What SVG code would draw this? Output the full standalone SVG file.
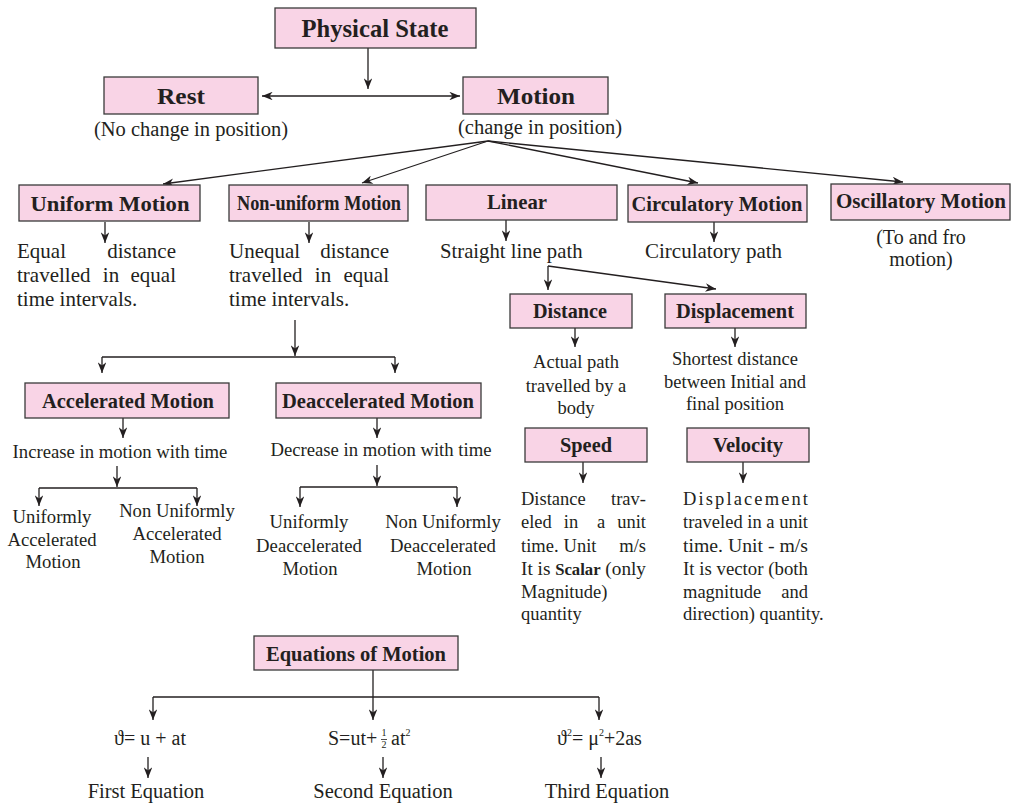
<svg xmlns="http://www.w3.org/2000/svg" width="1014" height="806" viewBox="0 0 1014 806">
<defs>
<style>
.box{fill:#f9d4e6;stroke:#3a3a3a;stroke-width:1.3}
.lbl{font-family:"Liberation Serif","Times New Roman",serif;font-weight:bold;fill:#231f20;text-anchor:middle}
.t{font-family:"Liberation Serif","Times New Roman",serif;fill:#231f20}
.c{text-anchor:middle}
.e{text-anchor:end}
.ln{fill:none;stroke:#231f20;stroke-width:1.3}
.ar{fill:none;stroke:#231f20;stroke-width:1.3;marker-end:url(#ah)}
</style>
<marker id="ah" viewBox="0 0 10 8" refX="10" refY="4" markerWidth="11" markerHeight="8.5" markerUnits="userSpaceOnUse" orient="auto-start-reverse">
<path d="M0,0 L10,4 L0,8 L3,4z" fill="#231f20"/>
</marker>
</defs>
<rect width="1014" height="806" fill="#ffffff"/>

<g id="connectors">
<path class="ar" d="M368,48 V89"/>
<path class="ln" d="M262,96 H460" marker-start="url(#ah)" marker-end="url(#ah)"/>
<path class="ar" d="M488,141 L163,184"/>
<path class="ar" d="M488,141 L362,183"/>
<path class="ar" d="M488,141 L698,183"/>
<path class="ar" d="M488,141 L903,182"/>
<path class="ar" d="M105,222 V243"/>
<path class="ar" d="M309,222 V243"/>
<path class="ar" d="M506,220 V241"/>
<path class="ar" d="M714,222 V242"/>
<path class="ar" d="M548,266 V290"/>
<path class="ar" d="M548,266 L716,289"/>
<path class="ar" d="M575,328 V347"/>
<path class="ar" d="M735,328 V347"/>
<path class="ar" d="M583,462 V483"/>
<path class="ar" d="M743,462 V483"/>
<path class="ar" d="M295,320 V356"/>
<path class="ln" d="M102,357 H395"/>
<path class="ar" d="M102,357 V373"/>
<path class="ar" d="M395,357 V373"/>
<path class="ar" d="M123,418 V438"/>
<path class="ar" d="M377,418 V438"/>
<path class="ar" d="M117,466 V487"/>
<path class="ln" d="M39,488 H197"/>
<path class="ar" d="M39,488 V506"/>
<path class="ar" d="M197,488 V506"/>
<path class="ar" d="M377,465 V486"/>
<path class="ln" d="M300,487 H457"/>
<path class="ar" d="M300,487 V507"/>
<path class="ar" d="M457,487 V507"/>
<path class="ar" d="M373,670 V720"/>
<path class="ln" d="M153,697 H599"/>
<path class="ar" d="M153,697 V720"/>
<path class="ar" d="M599,697 V720"/>
<path class="ar" d="M148,757 V778"/>
<path class="ar" d="M383,757 V778"/>
<path class="ar" d="M601,757 V778"/>
</g>

<g id="physical-state"><rect class="box" x="275" y="8" width="201" height="40"/><text class="lbl" x="375" y="37" font-size="25" textLength="147" lengthAdjust="spacingAndGlyphs">Physical State</text></g>
<g id="rest"><rect class="box" x="104" y="77" width="154" height="37"/><text class="lbl" x="181" y="104" font-size="24" textLength="48" lengthAdjust="spacingAndGlyphs">Rest</text>
<text class="t c" x="191" y="136" font-size="20.5">(No change in position)</text></g>
<g id="motion"><rect class="box" x="463" y="77" width="145" height="37"/><text class="lbl" x="536" y="104" font-size="24" textLength="78" lengthAdjust="spacingAndGlyphs">Motion</text>
<text class="t c" x="540" y="134" font-size="20.5">(change in position)</text></g>

<g id="uniform-motion"><rect class="box" x="19" y="185" width="181" height="36"/><text class="lbl" x="110" y="211" font-size="21" textLength="159" lengthAdjust="spacingAndGlyphs">Uniform Motion</text>
<g class="t" font-size="21"><text x="17" y="258">Equal</text><text class="e" x="176" y="258">distance</text>
<text x="17" y="282">travelled</text><text class="c" x="111" y="282">in</text><text class="e" x="176" y="282">equal</text>
<text x="17" y="306">time intervals.</text></g></g>

<g id="non-uniform-motion"><rect class="box" x="229" y="185" width="179" height="36"/><text class="lbl" x="319" y="210" font-size="20" textLength="164" lengthAdjust="spacingAndGlyphs">Non-uniform Motion</text>
<g class="t" font-size="21"><text x="229" y="258">Unequal</text><text class="e" x="389" y="258">distance</text>
<text x="229" y="282">travelled</text><text class="c" x="323" y="282">in</text><text class="e" x="389" y="282">equal</text>
<text x="229" y="306">time intervals.</text></g></g>

<g id="linear"><rect class="box" x="426" y="185" width="191" height="35"/><text class="lbl" x="517" y="209" font-size="21" textLength="60" lengthAdjust="spacingAndGlyphs">Linear</text>
<text class="t" x="440" y="258" font-size="20.7">Straight line path</text></g>

<g id="circulatory-motion"><rect class="box" x="628" y="185" width="179" height="37"/><text class="lbl" x="717" y="211" font-size="21" textLength="171" lengthAdjust="spacingAndGlyphs">Circulatory Motion</text>
<text class="t" x="645" y="258" font-size="21">Circulatory path</text></g>

<g id="oscillatory-motion"><rect class="box" x="831" y="184" width="179" height="36"/><text class="lbl" x="921" y="208" font-size="21" textLength="170" lengthAdjust="spacingAndGlyphs">Oscillatory Motion</text>
<text class="t c" x="921" y="244" font-size="20">(To and fro</text><text class="t c" x="921" y="266" font-size="20">motion)</text></g>

<g id="distance"><rect class="box" x="510" y="294" width="122" height="34"/><text class="lbl" x="570" y="318" font-size="21" textLength="74" lengthAdjust="spacingAndGlyphs">Distance</text>
<g class="t c" font-size="18.5"><text x="576" y="368">Actual path</text><text x="576" y="392">travelled by a</text><text x="576" y="414">body</text></g></g>

<g id="displacement"><rect class="box" x="665" y="294" width="141" height="34"/><text class="lbl" x="735" y="318" font-size="21" textLength="118" lengthAdjust="spacingAndGlyphs">Displacement</text>
<g class="t c" font-size="18.5"><text x="735" y="365">Shortest distance</text><text x="735" y="388">between Initial and</text><text x="735" y="410">final position</text></g></g>

<g id="speed"><rect class="box" x="525" y="428" width="122" height="34"/><text class="lbl" x="586" y="452" font-size="21" textLength="52" lengthAdjust="spacingAndGlyphs">Speed</text>
<g class="t" font-size="18.5"><text x="521" y="505">Distance</text><text class="e" x="646" y="505">trav-</text>
<text x="521" y="528">eled</text><text class="c" x="571" y="528">in</text><text class="c" x="601" y="528">a</text><text class="e" x="646" y="528">unit</text>
<text x="521" y="552">time.</text><text class="c" x="580" y="552">Unit</text><text class="e" x="646" y="552">m/s</text>
<text x="521" y="575" textLength="125" lengthAdjust="spacingAndGlyphs">It is <tspan font-weight="bold" font-size="16">Scalar</tspan> (only</text>
<text x="521" y="598">Magnitude)</text>
<text x="521" y="620">quantity</text></g></g>

<g id="velocity"><rect class="box" x="687" y="428" width="122" height="34"/><text class="lbl" x="748" y="452" font-size="21" textLength="70" lengthAdjust="spacingAndGlyphs">Velocity</text>
<g class="t" font-size="18.5"><text x="683" y="505" textLength="125" lengthAdjust="spacing">Displacement</text>
<text x="683" y="528" textLength="125" lengthAdjust="spacingAndGlyphs">traveled in a unit</text>
<text x="683" y="552" textLength="125" lengthAdjust="spacingAndGlyphs">time. Unit - m/s</text>
<text x="683" y="575" textLength="125" lengthAdjust="spacingAndGlyphs">It is vector (both</text>
<text x="683" y="598">magnitude</text><text class="e" x="808" y="598">and</text>
<text x="683" y="620">direction) quantity.</text></g></g>

<g id="accelerated-motion"><rect class="box" x="25" y="383" width="204" height="35"/><text class="lbl" x="128" y="408" font-size="21" textLength="172" lengthAdjust="spacingAndGlyphs">Accelerated Motion</text>
<text class="t c" x="120" y="458" font-size="18.7">Increase in motion with time</text>
<g class="t c" font-size="18.7"><text x="52" y="523">Uniformly</text><text x="52" y="546">Accelerated</text><text x="53" y="568">Motion</text>
<text x="177" y="517">Non Uniformly</text><text x="177" y="540">Accelerated</text><text x="177" y="563">Motion</text></g></g>

<g id="deaccelerated-motion"><rect class="box" x="276" y="383" width="205" height="35"/><text class="lbl" x="378" y="408" font-size="21" textLength="192" lengthAdjust="spacingAndGlyphs">Deaccelerated Motion</text>
<text class="t c" x="381" y="456" font-size="18.7">Decrease in motion with time</text>
<g class="t c" font-size="18.7"><text x="309" y="528">Uniformly</text><text x="309" y="552">Deaccelerated</text><text x="310" y="575">Motion</text>
<text x="443" y="528">Non Uniformly</text><text x="443" y="552">Deaccelerated</text><text x="444" y="575">Motion</text></g></g>

<g id="equations-of-motion"><rect class="box" x="254" y="636" width="204" height="34"/><text class="lbl" x="356" y="661" font-size="21" textLength="180" lengthAdjust="spacingAndGlyphs">Equations of Motion</text>
<g class="t" font-size="20">
<text class="c" x="150" y="745">ϑ= u + at</text>
<text x="328" y="745">S=ut+</text>
<text class="c" x="384" y="736" font-size="10">1</text>
<path d="M381,739.5 H387" stroke="#231f20" stroke-width="0.8"/>
<text class="c" x="384" y="748" font-size="10">2</text>
<text x="391" y="745">at<tspan font-size="10" dy="-9">2</tspan></text>
<text x="557" y="745">ϑ<tspan font-size="10" dy="-9">2</tspan><tspan dy="9">= μ</tspan><tspan font-size="10" dy="-9">2</tspan><tspan dy="9">+2as</tspan></text>
<text class="c" x="146" y="798" font-size="20.5">First Equation</text>
<text class="c" x="383" y="798" font-size="20.5">Second Equation</text>
<text class="c" x="607" y="798" font-size="20.5">Third Equation</text>
</g></g>
</svg>
